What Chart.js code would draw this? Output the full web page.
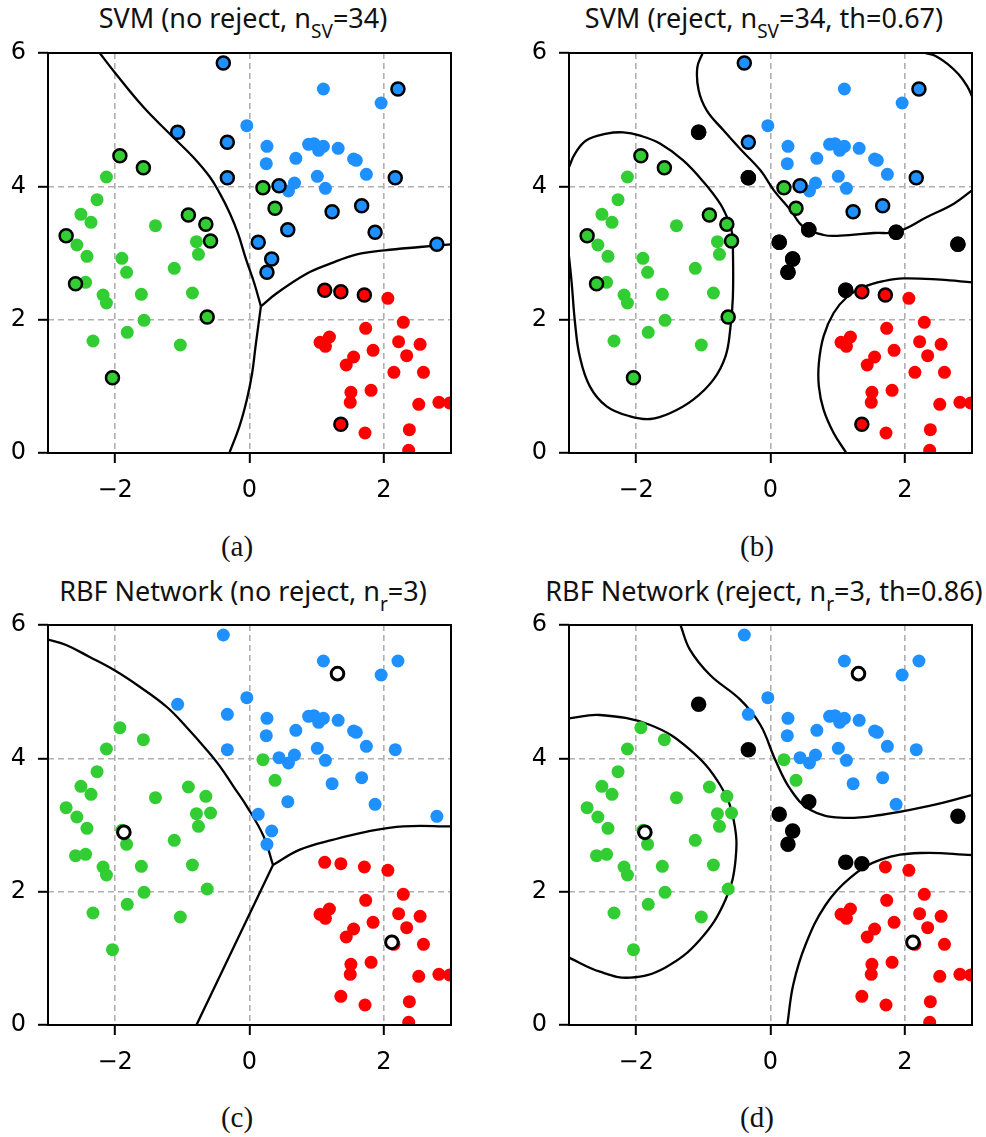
<!DOCTYPE html>
<html>
<head>
<meta charset="utf-8">
<script src="https://cdn.jsdelivr.net/npm/chart.js@4"></script>
<style>
body { margin: 0; background: #fff; width: 986px; height: 1137px; position: relative; overflow: hidden; }
canvas { position: absolute; }
.ttl { position: absolute; font-family: 'Noto Sans'; font-size: 27px; line-height: 27px; white-space: nowrap; transform: translateX(-50%); color: #111; }
.ttl .sub { font-size: 19px; position: relative; top: 10px; }
.cap { position: absolute; font-family: 'Liberation Serif'; font-size: 29px; line-height: 29px; transform: translate(-50%, -50%); color: #111; }
</style>
</head>
<body>
<div class="ttl" style="left:243px;top:4px">SVM (no reject, n<span class="sub">SV</span>=34)</div>
<div class="ttl" style="left:764px;top:4px">SVM (reject, n<span class="sub">SV</span>=34, th=0.67)</div>
<div class="ttl" style="left:243px;top:577px">RBF Network (no reject, n<span class="sub">r</span>=3)</div>
<div class="ttl" style="left:764px;top:577px">RBF Network (reject, n<span class="sub">r</span>=3, th=0.86)</div>

<canvas id="ca" width="470" height="520" style="left:0px;top:0px"></canvas>
<canvas id="cb" width="470" height="520" style="left:521px;top:0px"></canvas>
<canvas id="cc" width="470" height="520" style="left:0px;top:572px"></canvas>
<canvas id="cd" width="470" height="520" style="left:521px;top:572px"></canvas>

<div class="cap" style="left:237px;top:546px">(a)</div>
<div class="cap" style="left:757px;top:546px">(b)</div>
<div class="cap" style="left:237px;top:1117px">(c)</div>
<div class="cap" style="left:757px;top:1117px">(d)</div>

<script>
// axis ticks
const xTicks = [-2, 0, 2];
const yTicks = [0, 2, 4, 6];

// training points (x, y)
const greenPts = [[-2.57,3.12],[-2.42,2.95],[-2.44,2.56],[-2.18,2.37],[-2.13,2.25],[-1.90,2.92],[-1.83,2.71],
  [-1.61,2.38],[-1.57,1.99],[-1.82,1.81],[-2.33,1.68],[-1.03,1.62],[-1.12,2.77],[-0.85,2.40],[-0.79,3.17],
  [-0.76,2.98],[-1.40,3.41],[-2.36,3.46],[-2.51,3.58],[-2.27,3.80],[-2.13,4.14]];
const greenSV = [[-2.73,3.26],[-2.59,2.54],[-2.04,1.13],[-0.63,2.04],[-0.58,3.18],[-0.91,3.57],[-0.65,3.43],
  [-1.93,4.46],[-1.58,4.28],[0.20,3.98],[0.38,3.67]];
const bluePts = [[1.10,5.46],[1.96,5.25],[-0.04,4.91],[0.26,4.60],[0.25,4.34],[0.69,4.42],[0.88,4.63],[0.96,4.64],
  [1.03,4.54],[1.10,4.60],[1.32,4.57],[1.55,4.41],[1.59,4.39],[1.74,4.18],[1.01,4.15],[1.13,3.97],[0.67,4.05],[0.58,3.93]];
const blueSV = [[-0.39,5.85],[-1.07,4.81],[-0.33,4.66],[-0.33,4.13],[2.21,5.46],[2.17,4.13],[0.44,4.01],[1.23,3.62],
  [1.67,3.71],[0.57,3.35],[1.87,3.31],[0.13,3.16],[2.79,3.13],[0.33,2.91],[0.26,2.71]];
const redPts = [[2.06,2.32],[2.29,1.96],[1.73,1.87],[1.19,1.74],[1.05,1.66],[1.13,1.60],[2.22,1.67],[2.54,1.63],
  [1.84,1.54],[2.34,1.46],[1.55,1.44],[1.44,1.32],[2.15,1.21],[2.59,1.21],[1.51,0.91],[1.81,0.94],[1.50,0.76],
  [2.52,0.73],[2.82,0.76],[2.98,0.75],[1.72,0.30],[2.38,0.35],[2.37,0.04]];
const redSV = [[1.12,2.44],[1.36,2.42],[1.71,2.37],[1.36,0.43]];

const svmRejected = [[-1.07,4.81],[-0.33,4.13],[0.57,3.35],[1.87,3.31],[2.79,3.13],[0.13,3.16],[0.33,2.91],[0.26,2.71],[1.12,2.44]];
const rbfRejected = [[-1.07,4.81],[-0.33,4.13],[0.57,3.35],[0.13,3.16],[0.33,2.91],[0.26,2.71],[1.12,2.44],[1.36,2.42],[2.79,3.13]];
const rbfCenters = [[1.31,5.27],[-1.87,2.89],[2.12,1.24]];

// decision boundaries
const svmA1 = [[-2.23,6.0],[-2.0,5.70],[-1.58,5.19],[-1.14,4.74],[-0.84,4.44],[-0.59,4.14],[-0.44,3.89],[-0.29,3.59],
  [-0.17,3.29],[-0.05,2.9],[0.07,2.55],[0.17,2.20]];
const svmA2 = [[0.17,2.20],[0.09,1.6],[0.04,1.2],[-0.04,0.8],[-0.15,0.4],[-0.30,0.0]];
const svmA3 = [[0.17,2.20],[0.41,2.40],[0.85,2.69],[1.20,2.84],[1.60,2.98],[2.01,3.04],[2.54,3.09],[3.0,3.13]];

const svmB1 = [[-3.0,4.29],[-2.91,4.49],[-2.74,4.69],[-2.44,4.79],[-2.19,4.81],[-1.94,4.76],[-1.64,4.64],[-1.30,4.39],
  [-1.00,4.07],[-0.75,3.74],[-0.62,3.47],[-0.57,3.29],[-0.56,3.09],[-0.56,2.34],[-0.60,1.85],[-0.67,1.45],[-0.85,1.10],
  [-1.15,0.80],[-1.49,0.60],[-1.79,0.51],[-2.09,0.55],[-2.44,0.70],[-2.69,1.00],[-2.84,1.45],[-2.91,1.95],[-2.96,2.55],[-3.0,2.95]];
const svmB2 = [[-1.01,6.0],[-1.09,5.78],[-1.07,5.44],[-0.95,5.14],[-0.70,4.84],[-0.45,4.56],[-0.15,4.24],[0.05,3.94],
  [0.30,3.64],[0.49,3.39],[0.79,3.27],[1.04,3.26],[1.54,3.30],[1.89,3.32],[2.33,3.54],[2.73,3.74],[3.0,3.94]];
const svmB3 = [[2.30,6.0],[2.45,5.96],[2.63,5.84],[2.80,5.68],[2.93,5.50],[3.0,5.35]];
const svmB4 = [[3.0,2.56],[2.53,2.60],[1.98,2.62],[1.69,2.58],[1.39,2.49],[1.14,2.34],[0.94,2.10],[0.79,1.75],
  [0.72,1.35],[0.72,1.00],[0.79,0.65],[0.94,0.30],[1.13,0.0]];

const rbfC1 = [[-3.0,5.78],[-2.73,5.70],[-2.38,5.52],[-2.01,5.32],[-1.63,5.07],[-1.23,4.77],[-0.94,4.47],[-0.64,4.13],
  [-0.44,3.88],[-0.24,3.58],[-0.04,3.28],[0.21,2.83],[0.35,2.40]];
const rbfC2 = [[0.35,2.40],[-0.22,1.2],[-0.79,0.0]];
const rbfC3 = [[0.35,2.40],[0.75,2.63],[1.25,2.78],[1.75,2.90],[2.29,2.98],[3.0,2.98]];

const rbfD1 = [[-3.0,4.60],[-2.54,4.65],[-1.79,4.50],[-1.20,4.13],[-0.75,3.60],[-0.55,3.08],[-0.52,2.48],[-0.67,1.88],
  [-1.05,1.28],[-1.57,0.86],[-2.09,0.71],[-2.54,0.80],[-3.0,1.01]];
const rbfD2 = [[-1.34,6.0],[-1.20,5.63],[-0.90,5.25],[-0.45,4.88],[-0.15,4.50],[0.07,3.98],[0.30,3.53],[0.59,3.23],
  [1.04,3.11],[1.64,3.15],[2.38,3.29],[3.0,3.45]];
const rbfD3 = [[3.0,2.55],[2.23,2.58],[1.64,2.48],[1.19,2.21],[0.82,1.80],[0.52,1.20],[0.34,0.61],[0.25,0.0]];

const GREEN = '#32cd32', BLUE = '#1e90ff', RED = '#ff0000';

function pts(arr) { return arr.map(p => ({ x: p[0], y: p[1] })); }

function dots(arr, fill, edge, order, r, bw) {
  return {
    data: pts(arr),
    pointRadius: r || 6.5,
    pointBackgroundColor: fill,
    pointBorderColor: edge || fill,
    pointBorderWidth: edge ? (bw || 2.5) : 0,
    clip: 0,
    order: order
  };
}

function curve(arr) {
  return {
    data: pts(arr), showLine: true, pointRadius: 0, borderColor: '#000', borderWidth: 2.3,
    tension: 0.4, fill: false, clip: 0, order: 9
  };
}

function axis(vals, lo, hi, horiz) {
  return {
    type: 'linear', min: lo, max: hi,
    afterBuildTicks: s => { s.ticks = vals.map(v => ({ value: v })); },
    afterFit: s => { if (horiz) s.height = 67; else s.width = 48; },
    ticks: {
      color: '#000', font: { family: 'DejaVu Sans', size: 24 }, padding: horiz ? 13 : 12,
      maxRotation: 0, autoSkip: false,
      callback: v => v < 0 ? '\u2212' + Math.abs(v) : String(v)
    },
    grid: { color: '#b0b0b0', lineWidth: 1.6, tickColor: '#000', tickWidth: 2, tickLength: 10, tickBorderDash: [] },
    border: { display: false, dash: [6, 4] }
  };
}

const frame = {
  id: 'frame',
  afterDatasetsDraw(chart) {
    const a = chart.chartArea, ctx = chart.ctx;
    ctx.save();
    ctx.strokeStyle = '#000';
    ctx.lineWidth = 2;
    ctx.strokeRect(a.left, a.top, a.right - a.left, a.bottom - a.top);
    ctx.restore();
  }
};

function panel(id, datasets) {
  new Chart(document.getElementById(id), {
    type: 'scatter',
    data: { datasets: datasets },
    options: {
      responsive: false,
      animation: false,
      devicePixelRatio: 1,
      layout: { padding: { top: 53, right: 19, left: 0, bottom: 0 } },
      plugins: { legend: { display: false }, tooltip: { enabled: false } },
      scales: { x: axis(xTicks, -3, 3, true), y: axis(yTicks, 0, 6, false) }
    },
    plugins: [frame]
  });
}

const plain = [dots(greenPts, GREEN, null, 5), dots(bluePts, BLUE, null, 5), dots(redPts, RED, null, 5)];
const plainAll = [dots(greenPts.concat(greenSV), GREEN, null, 5), dots(bluePts.concat(blueSV), BLUE, null, 5),
  dots(redPts.concat(redSV), RED, null, 5)];
const svDots = [dots(greenSV, GREEN, '#000', 4), dots(blueSV, BLUE, '#000', 4), dots(redSV, RED, '#000', 4)];

panel('ca', plain.concat(svDots, [svmA1, svmA2, svmA3].map(curve)));
panel('cb', plain.concat(svDots, [dots(svmRejected, '#000', '#000', 3)],
  [svmB1, svmB2, svmB3, svmB4].map(curve)));
panel('cc', plainAll.concat([dots(rbfCenters, '#fff', '#000', 2, 6.3, 3)], [rbfC1, rbfC2, rbfC3].map(curve)));
panel('cd', plainAll.concat([dots(rbfRejected, '#000', '#000', 3), dots(rbfCenters, '#fff', '#000', 2, 6.3, 3)],
  [rbfD1, rbfD2, rbfD3].map(curve)));
</script>
</body>
</html>
